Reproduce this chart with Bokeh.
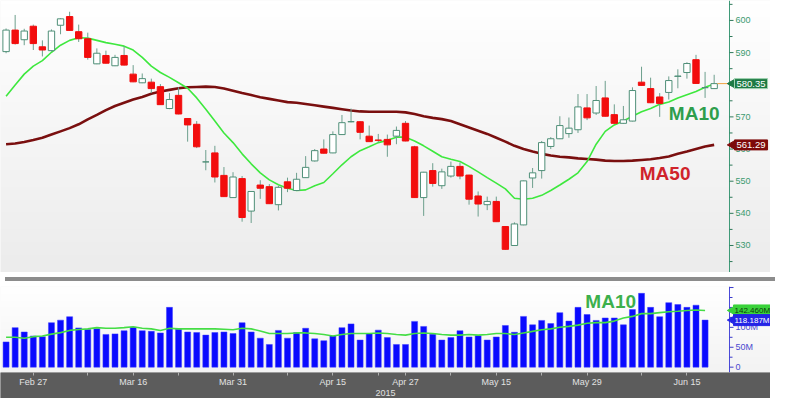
import numpy as np
from bokeh.plotting import figure
from bokeh.layouts import column
from bokeh.models import ColumnDataSource, Range1d, FixedTicker, Label, Div
from bokeh.core.properties import value
from bokeh.embed import file_html
from bokeh.resources import INLINE

# ---------------- data ----------------
opens = [590.3, 597.0, 594.0, 598.2, 591.8, 590.6, 598.5, 601.2, 596.5, 594.3,
         586.5, 589.1, 585.9, 589.1, 583.3, 580.6, 580.8, 579.4, 572.6, 576.7,
         569.5, 567.7, 556.0, 558.8, 551.8, 544.9, 550.8, 540.7, 548.8, 548.3,
         542.7, 549.8, 547.1, 551.1, 556.3, 560.0, 558.8, 564.5, 568.5, 568.5,
         564.0, 562.8, 563.0, 564.0, 568.0, 560.7, 544.9, 553.3, 548.6, 551.6,
         554.6, 551.9, 545.4, 542.7, 543.7, 535.9, 530.0, 536.4, 551.0, 553.3,
         560.8, 563.2, 564.8, 566.0, 572.8, 571.2, 575.9, 570.7, 568.0, 568.7,
         580.8, 578.8, 576.2, 577.6, 582.6, 583.8, 587.8, 579.1, 578.8]
highs = [597.5, 601.7, 597.4, 598.7, 593.8, 597.2, 600.7, 602.7, 598.7, 596.2,
         591.3, 590.6, 589.3, 592.0, 586.1, 583.5, 581.9, 580.2, 577.4, 579.2,
         569.6, 568.7, 559.7, 561.0, 554.4, 552.8, 551.6, 546.9, 550.3, 549.1,
         548.6, 551.1, 552.6, 557.8, 560.0, 563.0, 565.5, 570.6, 572.6, 568.7,
         567.3, 564.7, 564.5, 567.0, 568.7, 561.0, 552.9, 555.6, 553.9, 556.1,
         555.8, 552.0, 546.8, 545.2, 545.2, 536.0, 537.2, 550.2, 554.1, 562.5,
         563.7, 570.2, 569.8, 577.1, 577.1, 579.6, 581.2, 573.9, 573.4, 579.2,
         585.6, 582.2, 577.4, 582.6, 584.8, 587.0, 589.3, 584.0, 583.1]
lows = [589.8, 592.5, 592.3, 590.8, 588.8, 590.3, 595.7, 596.8, 593.3, 587.8,
        586.4, 586.6, 585.8, 586.0, 580.8, 580.5, 577.4, 573.7, 572.4, 570.8,
        562.3, 560.3, 553.4, 549.6, 545.1, 544.8, 537.4, 537.0, 544.5, 542.9,
        540.9, 546.6, 547.0, 551.0, 556.1, 558.6, 558.7, 564.4, 568.3, 563.0,
        562.2, 562.0, 557.6, 561.5, 562.4, 544.8, 539.2, 548.3, 547.6, 551.1,
        550.6, 542.7, 539.0, 541.0, 537.3, 528.7, 529.9, 536.3, 547.9, 550.8,
        560.0, 563.1, 563.5, 565.0, 569.0, 570.6, 570.1, 567.9, 567.9, 568.6,
        579.7, 574.3, 570.0, 575.4, 578.9, 581.9, 580.3, 575.9, 578.7]
closes = [597.0, 592.8, 596.7, 592.8, 590.8, 596.7, 600.5, 596.9, 594.3, 588.5,
          589.8, 586.7, 588.5, 586.1, 580.9, 581.9, 578.8, 573.8, 575.4, 570.9,
          567.5, 560.7, 556.0, 551.3, 545.2, 551.3, 538.7, 546.8, 547.8, 543.0,
          548.1, 547.8, 550.6, 554.3, 559.5, 558.7, 564.5, 568.2, 568.5, 565.2,
          562.3, 562.7, 561.3, 565.8, 562.5, 544.9, 552.8, 549.3, 552.9, 554.6,
          551.6, 544.4, 542.9, 543.7, 537.4, 528.8, 536.7, 550.1, 552.6, 562.0,
          563.2, 567.3, 566.5, 573.1, 569.7, 575.1, 570.2, 568.0, 569.1, 578.2,
          579.8, 574.4, 574.2, 581.3, 582.7, 586.6, 580.4, 579.1, 580.35]
ma10 = [576.4, 579.9, 583.3, 585.8, 587.5, 590.1, 592.3, 593.8, 594.6, 594.5,
        593.8, 593.1, 592.6, 592.0, 590.8, 588.5, 585.8, 583.8, 582.3, 580.6,
        578.9, 575.9, 572.4, 568.7, 565.0, 562.0, 558.5, 555.4, 552.6, 550.4,
        548.9, 547.8, 547.1, 547.3, 548.6, 549.6, 552.3, 555.1, 557.6, 559.5,
        560.7, 562.0, 562.7, 563.7, 563.7, 562.5, 561.0, 559.3, 557.6, 556.8,
        556.1, 554.6, 552.9, 551.1, 549.4, 547.6, 544.7, 544.4, 544.7, 545.6,
        547.1, 548.8, 550.6, 552.6, 556.1, 561.5, 565.5, 567.5, 568.7, 570.2,
        571.6, 572.6, 573.9, 574.6, 575.9, 576.9, 577.9, 579.2, 580.2]
ma50 = [561.5, 561.7, 562.2, 562.8, 563.5, 564.5, 565.5, 566.5, 567.7, 569.2,
        570.6, 572.1, 573.4, 574.4, 575.4, 576.2, 577.2, 577.9, 578.4, 578.9,
        579.2, 579.3, 579.4, 579.3, 578.8, 578.1, 577.4, 576.8, 576.1, 575.6,
        575.1, 574.6, 574.4, 574.0, 573.6, 573.2, 572.8, 572.4, 572.0, 571.7,
        571.6, 571.6, 571.6, 571.6, 571.4, 570.9, 570.2, 569.7, 569.3, 568.7,
        567.7, 566.7, 565.7, 564.7, 563.5, 562.3, 561.0, 560.0, 559.2, 558.5,
        558.0, 557.6, 557.4, 557.1, 556.9, 556.7, 556.4, 556.3, 556.3, 556.4,
        556.6, 556.8, 557.2, 557.7, 558.5, 559.2, 560.0, 560.8, 561.29]
volume_m = [63.4, 99.3, 88.3, 78.2, 76.5, 111.7, 118.1, 126.7, 98.6, 94.6,
            96.2, 82.2, 83.6, 91.5, 100.0, 91.5, 89.9, 85.9, 150.2, 95.3,
            88.3, 86.9, 80.5, 86.9, 88.3, 84.5, 111.7, 88.3, 72.8, 57.0,
            92.3, 72.8, 86.9, 97.7, 71.1, 66.4, 78.2, 99.3, 108.7, 68.1,
            84.5, 93.0, 74.2, 57.0, 57.0, 115.0, 102.3, 82.9, 68.1, 74.2,
            91.5, 75.8, 78.9, 68.1, 75.8, 104.7, 87.6, 127.5, 106.3, 117.4,
            109.4, 136.9, 115.7, 150.2, 132.2, 117.4, 123.5, 123.5, 106.3, 144.6,
            185.4, 150.2, 126.7, 162.0, 157.3, 150.2, 155.6, 118.187]
vol_ma10_m = [75.0, 75.0, 72.7, 76.6, 78.2, 82.9, 86.8, 92.3, 94.6, 96.2,
              99.3, 97.7, 97.7, 99.3, 101.6, 97.7, 96.2, 92.3, 97.7, 96.2,
              96.2, 96.2, 96.2, 96.2, 95.4, 93.8, 97.7, 96.2, 90.7, 84.4,
              84.4, 84.4, 86.0, 86.0, 84.4, 82.1, 78.2, 82.1, 84.4, 84.4,
              84.4, 86.0, 84.4, 82.1, 80.5, 84.4, 86.0, 84.4, 82.1, 80.5,
              80.5, 82.1, 80.5, 82.1, 84.4, 84.4, 82.1, 86.0, 89.9, 93.8,
              96.2, 100.1, 102.4, 105.6, 110.3, 111.8, 111.8, 115.7, 123.5, 127.5,
              134.5, 134.5, 136.9, 139.2, 140.5, 142.5, 143.5, 142.46]

date_tick_idx = [3, 14, 25, 36, 44, 54, 64, 75]
date_tick_labels = ["Feb 27", "Mar 16", "Mar 31", "Apr 15", "Apr 27", "May 15", "May 29", "Jun 15"]
date_minor_idx = [9, 19, 31, 41, 49, 59, 70]
year_label = "2015"
price_ticks = [530, 540, 550, 560, 570, 580, 590, 600]
price_tick_labels = ["530", "540", "550", "560", "570", "580", "590", "600"]
price_minor = [525, 535, 545, 555, 565, 575, 585, 595, 605]
vol_ticks = [0, 50, 100, 150, 200]
vol_tick_labels = ["0", "50M", "100M", "", ""]
vol_minor = [25, 75, 125, 175]
last_price_text = "580.35"
ma50_text = "561.29"
vol_ma_text = "142.460M"
vol_text = "118.187M"

# ---------------- layout constants ----------------
W = 770
FRAME_W = 729            # chart area; the rest is the right-hand scale column
PRICE_H = 272
VOL_H = 88
BAND_H = 24
X0, X1 = -0.614, 79.69   # index range of the chart area
XE = X0 + (X1 - X0) * W / FRAME_W
PX = FRAME_W / (X1 - X0)  # pixels per index unit
PY0, PY1 = 521.6, 606.2
VY0, VY1 = -13.4, 202.6
FONT = "Liberation Sans"

n = len(closes)
idx = list(range(n))
inc = [c >= o for o, c in zip(opens, closes)]
src = ColumnDataSource(dict(
    x=idx, o=opens, h=highs, l=lows, c=closes,
    top=[max(o, c) for o, c in zip(opens, closes)],
    bot=[min(o, c) for o, c in zip(opens, closes)],
    fill=["#ffffff" if u else "#f20d0d" for u in inc],
    line=["#4f8f78" if u else "#f20d0d" for u in inc],
))


def vgrad(top_rgb, bot_rgb, rows=64):
    img = np.empty((rows, 1), dtype=np.uint32)
    v = img.view(dtype=np.uint8).reshape((rows, 1, 4))
    t = np.linspace(0.0, 1.0, rows)  # row 0 = bottom
    for k in range(3):
        v[:, 0, k] = (bot_rgb[k] + (top_rgb[k] - bot_rgb[k]) * t).astype(np.uint8)
    v[:, 0, 3] = 255
    return img


def scale_column(fig, y0, y1, ticks, labels, minor, line_col, tick_col, lab_col):
    """Right-hand value scale drawn in the scale column at the chart edge."""
    fig.segment(x0=[X1], y0=[y0], x1=[X1], y1=[y1], line_color=line_col, line_width=1)
    fig.segment(x0=[X1] * len(ticks), y0=ticks, x1=[X1 + 4 / PX] * len(ticks), y1=ticks,
                line_color=tick_col, line_width=1)
    fig.segment(x0=[X1] * len(minor), y0=minor, x1=[X1 + 3 / PX] * len(minor), y1=minor,
                line_color=tick_col, line_width=1)
    fig.text(x=[X1 + 6 / PX] * len(ticks), y=ticks, text=labels,
             text_color=lab_col, text_font=value(FONT), text_font_size="9px",
             text_baseline="middle", text_align="left")


def flag(fig, y, text, bg, fg, border, size="9.5px", pad=2, off=5):
    fig.scatter(x=[X1 + 3 / PX], y=[y], marker="triangle", angle=np.pi / 2, size=9,
                fill_color=bg, line_color=bg)
    fig.add_layout(Label(x=X1, y=y, x_offset=off, text=text, text_color=fg,
                         text_font=FONT, text_font_size=size, text_baseline="middle",
                         background_fill_color=bg, border_line_color=border, padding=pad))


# ---------------- price panel ----------------
p = figure(width=W, height=PRICE_H, output_backend="svg", toolbar_location=None,
           x_range=Range1d(X0, XE), y_range=Range1d(PY0, PY1),
           x_axis_location=None, y_axis_location=None,
           min_border_left=0, min_border_right=0, min_border_top=0, min_border_bottom=0)
p.background_fill_color = "#f6f6f6"
p.border_fill_color = "#fafafa"
p.outline_line_color = None
p.grid.visible = False
p.image_rgba(image=[vgrad((255, 255, 255), (236, 236, 236))], x=X0, y=PY0,
             dw=XE - X0, dh=PY1 - PY0)

p.line(idx, ma50, line_color="#7a0f0f", line_width=2.6)
p.line(idx, ma10, line_color="#3ee83e", line_width=1.6)
p.segment(x0="x", y0="l", x1="x", y1="h", source=src, line_color="#6d9f8d", line_width=1)
p.vbar(x="x", width=0.7, top="top", bottom="bot", source=src,
       fill_color="fill", line_color="line", line_width=1)
p.segment(x0=[n - 1 + 0.35], y0=[closes[-1]], x1=[X1], y1=[closes[-1]],
          line_color="#f0a040", line_width=1)

scale_column(p, PY0, PY1, price_ticks, price_tick_labels, price_minor,
             "#3f9a78", "#2f7a5a", "#3c9a70")
flag(p, closes[-1], last_price_text, "#1d7a44", "white", "#9fd3b0")
flag(p, ma50[-1], ma50_text, "#7d0a0a", "white", "#7d0a0a")

p.add_layout(Label(x=75.8, y=571.2, text="MA10", text_align="center",
                   text_baseline="middle", text_color="#2e9e4c", text_font=FONT,
                   text_font_style="bold", text_font_size="19px"))
p.add_layout(Label(x=72.6, y=552.4, text="MA50", text_align="center",
                   text_baseline="middle", text_color="#d0232b", text_font=FONT,
                   text_font_style="bold", text_font_size="19px"))

# ---------------- separator ----------------
sep = Div(text="", width=W, height=4, styles={"background-color": "#8c8c8c"})

# ---------------- volume panel ----------------
v = figure(width=W, height=VOL_H + BAND_H, output_backend="svg", toolbar_location=None,
           x_range=p.x_range, y_range=Range1d(VY0, VY1), y_axis_location=None,
           min_border_left=0, min_border_right=0, min_border_top=0,
           min_border_bottom=BAND_H)
v.background_fill_color = "#fafafa"
v.border_fill_color = "#5c5c5c"
v.outline_line_color = None
v.grid.visible = False
v.image_rgba(image=[vgrad((255, 255, 255), (243, 243, 243))], x=X0, y=VY0,
             dw=XE - X0, dh=VY1 - VY0)
v.vbar(x=idx[:len(volume_m)], width=0.66, top=volume_m, bottom=0,
       fill_color="#0a0aff", line_color="#3a3aff", line_width=0.5)
v.line(idx[:len(vol_ma10_m)], vol_ma10_m, line_color="#45dd45", line_width=1.6)

scale_column(v, VY0, VY1, vol_ticks, vol_tick_labels, vol_minor,
             "#4a4ad8", "#3a3acc", "#4a4ad0")
flag(v, vol_ma10_m[-1], vol_ma_text, "#3ad23a", "#0a3a0a", "#3ad23a",
     size="8px", pad=1, off=4)
flag(v, volume_m[-1], vol_text, "#2424e6", "white", "#2424e6",
     size="8px", pad=1, off=4)
v.add_layout(Label(x=66.6, y=163.8, text="MA10", text_align="center",
                   text_baseline="middle", text_color="#3cb04c", text_font=FONT,
                   text_font_style="bold", text_font_size="19px"))

xa = v.xaxis[0]
xa.ticker = FixedTicker(ticks=date_tick_idx, minor_ticks=date_minor_idx)
xa.major_label_overrides = {t: s for t, s in zip(date_tick_idx, date_tick_labels)}
xa.axis_line_color = None
xa.major_tick_line_color = "#b0b0b0"
xa.minor_tick_line_color = "#b0b0b0"
xa.major_tick_out = 3
xa.major_tick_in = 0
xa.minor_tick_out = 3
xa.minor_tick_in = 0
xa.major_label_standoff = 1
xa.major_label_text_color = "#e2e2e2"
xa.major_label_text_font = FONT
xa.major_label_text_font_size = "9px"
xa.axis_label = year_label
xa.axis_label_standoff = 0
xa.axis_label_text_color = "#e2e2e2"
xa.axis_label_text_font = FONT
xa.axis_label_text_font_size = "9px"
xa.axis_label_text_font_style = "normal"
try:
    xa.background_fill_color = "#5c5c5c"
except Exception:
    pass

layout = column(p, sep, v, spacing=0)
open("out.html", "w").write(file_html(layout, INLINE))
